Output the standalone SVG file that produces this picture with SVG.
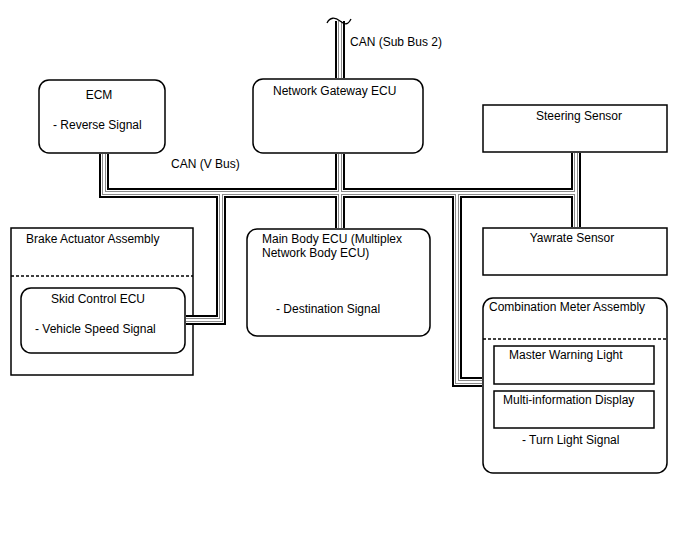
<svg xmlns="http://www.w3.org/2000/svg" width="688" height="560" viewBox="0 0 688 560">
<style>
text{font-family:"Liberation Sans",Arial,sans-serif;font-size:12px;fill:#000}
.box{fill:#fff;stroke:#000;stroke-width:1.5}
.dash{stroke:#000;stroke-width:1.3;stroke-dasharray:3 2;fill:none}
.c1{stroke:#000;stroke-width:10;fill:none}
.c2{stroke:#fff;stroke-width:6;fill:none}
.c3{stroke:#8a8a8a;stroke-width:4;fill:none}
.c4{stroke:#fff;stroke-width:2;fill:none}
.mid{text-anchor:middle}
</style>
<defs>
<path id="bus" d="M104,154 V193 H576 M576,153 V227 M340,21 V78 M340,154 V228 M221,193 V320 H186 M457,193 V382 H482"/>
</defs>
<rect width="688" height="560" fill="#fff"/>
<g id="ecm">
<rect class="box" x="39" y="80" width="126" height="73" rx="10"/>
<text class="mid" x="99" y="99">ECM</text>
<text x="53" y="129">- Reverse Signal</text>
</g>
<g id="gateway">
<rect class="box" x="253" y="79" width="170" height="74" rx="10"/>
<text x="273" y="95">Network Gateway ECU</text>
</g>
<g id="steering">
<rect class="box" x="483" y="105" width="184" height="47"/>
<text class="mid" x="579" y="120">Steering Sensor</text>
</g>
<g id="yawrate">
<rect class="box" x="483" y="228" width="184" height="47"/>
<text class="mid" x="572" y="242">Yawrate Sensor</text>
</g>
<g id="brake">
<rect class="box" x="11" y="228" width="182" height="147"/>
<text x="26" y="243">Brake Actuator Assembly</text>
<line class="dash" x1="11" y1="276" x2="193" y2="276"/>
</g>
<g id="skid">
<rect class="box" x="21" y="288" width="164" height="65" rx="10"/>
<text x="51" y="303">Skid Control ECU</text>
<text x="35" y="333">- Vehicle Speed Signal</text>
</g>
<g id="mainbody">
<rect class="box" x="247" y="229" width="183" height="107" rx="10"/>
<text x="262" y="243">Main Body ECU (Multiplex</text>
<text x="262" y="257">Network Body ECU)</text>
<text x="276" y="313">- Destination Signal</text>
</g>
<g id="combo">
<rect class="box" x="483" y="298" width="184" height="175" rx="10"/>
<text x="489" y="311">Combination Meter Assembly</text>
<line class="dash" x1="483" y1="339" x2="667" y2="339"/>
<text x="522" y="444">- Turn Light Signal</text>
</g>
<g id="mwl">
<rect class="box" x="494" y="346" width="160" height="38"/>
<text x="509" y="359">Master Warning Light</text>
</g>
<g id="mid">
<rect class="box" x="494" y="391" width="160" height="37"/>
<text x="503" y="404">Multi-information Display</text>
</g>
<g id="connectors">
<use href="#bus" class="c1"/>
<use href="#bus" class="c2"/>
<use href="#bus" class="c3"/>
<use href="#bus" class="c4"/>
<path d="M327,23 C330,17 335,17 340,21 S348,25 351,19" fill="none" stroke="#000" stroke-width="1.3"/>
<text x="350" y="46">CAN (Sub Bus 2)</text>
<text x="171" y="168">CAN (V Bus)</text>
</g>
</svg>
